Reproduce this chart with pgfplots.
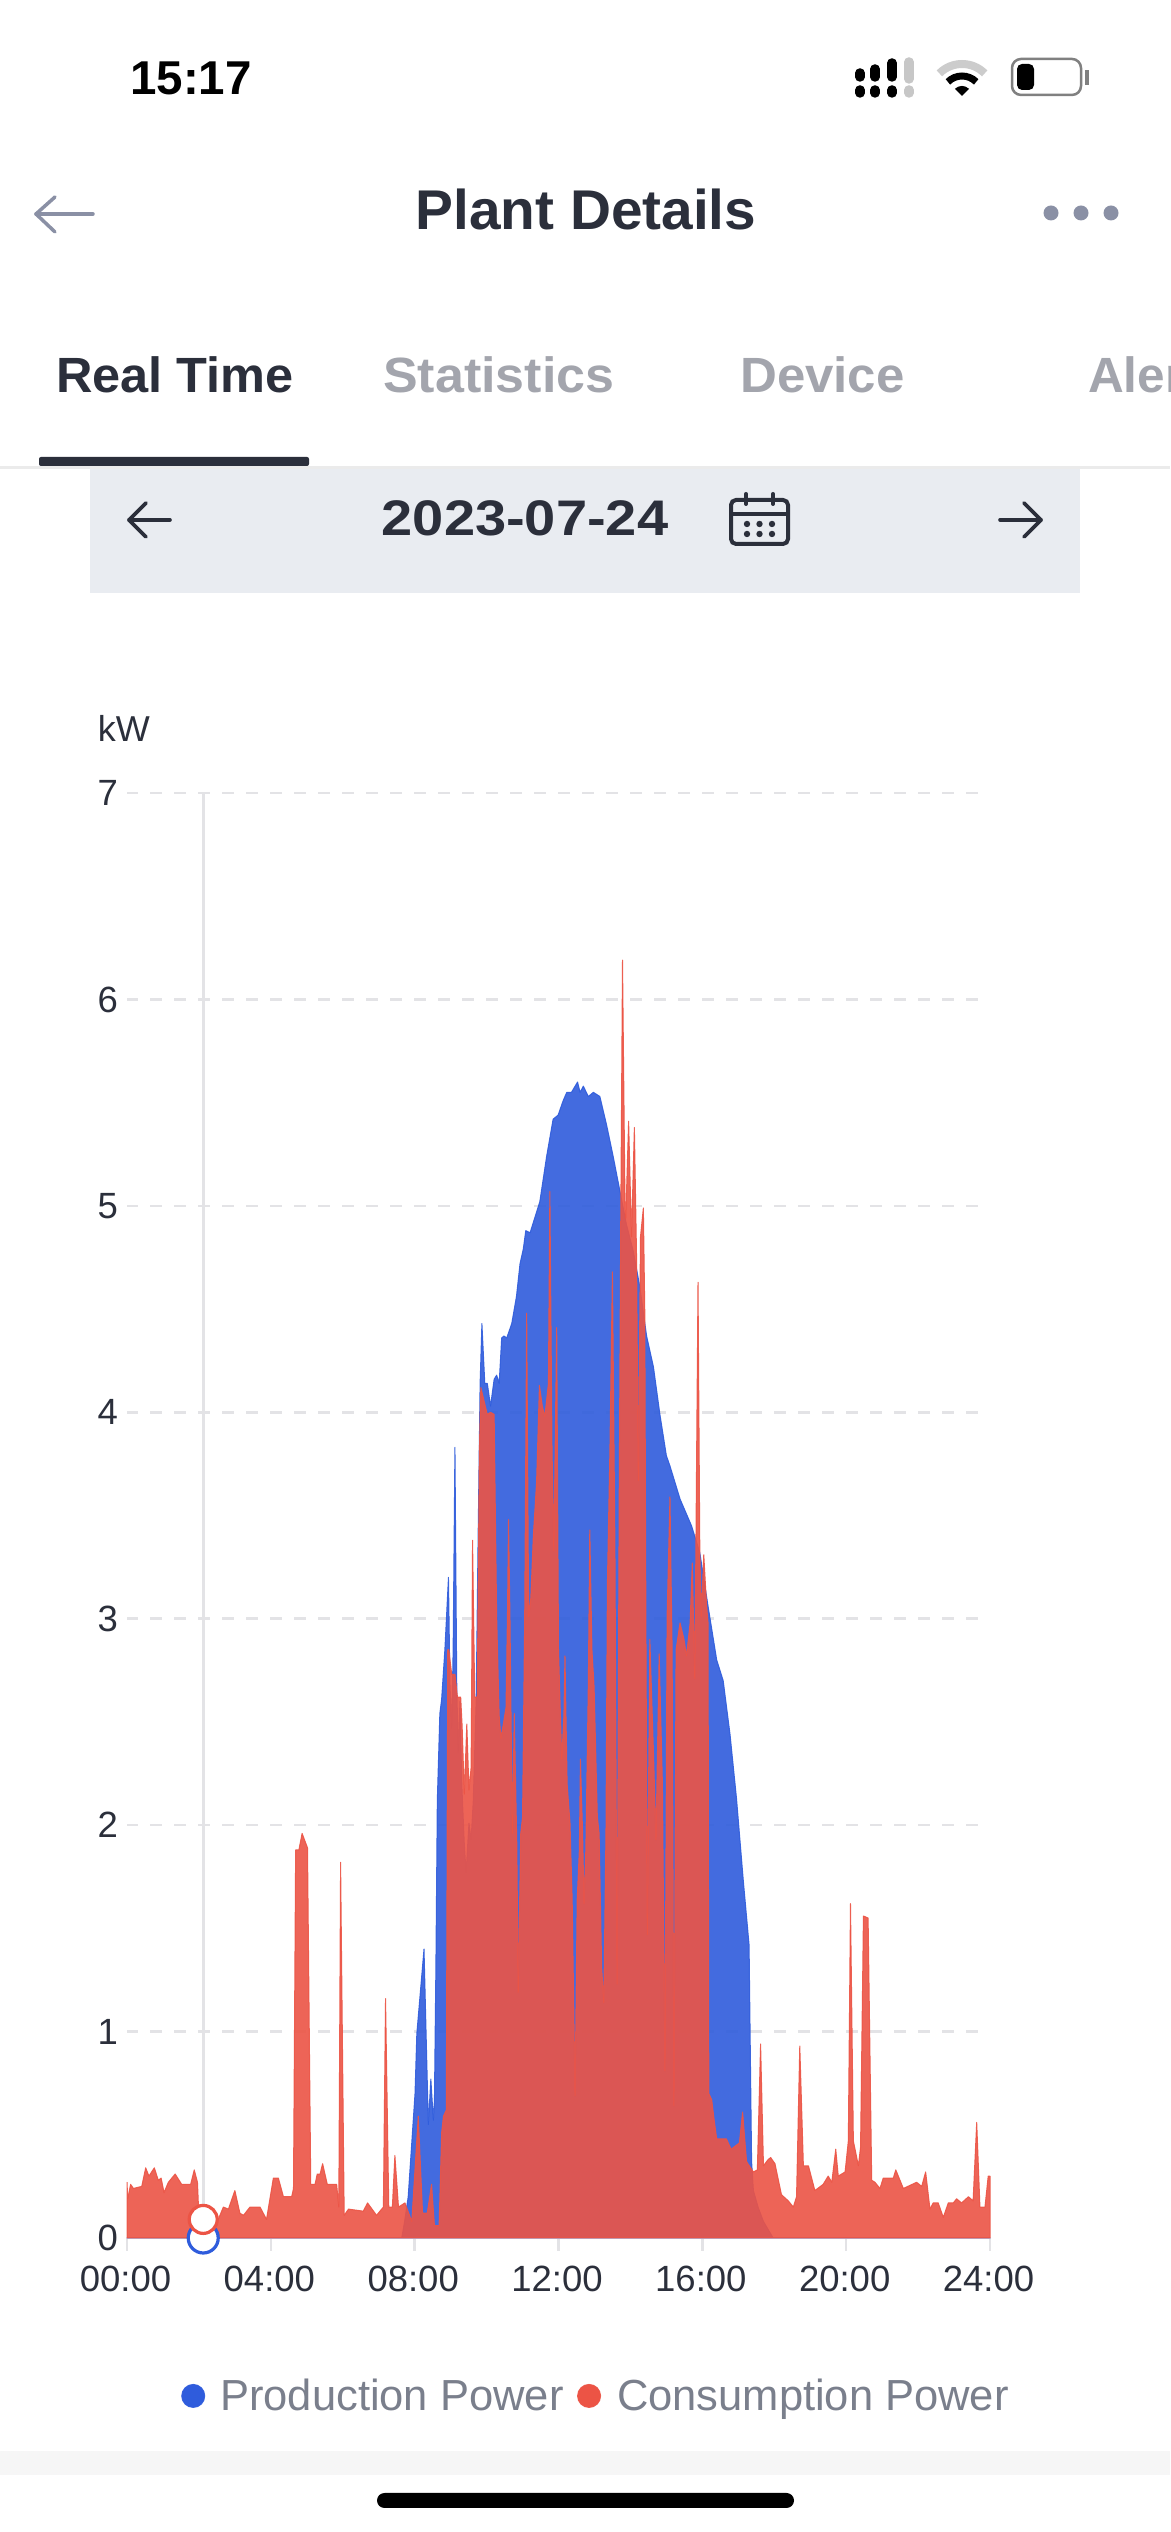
\documentclass[border=0pt]{standalone}
\usepackage{pgfplots}
\usepackage{fontspec}
\setmainfont{Liberation Sans}
\pgfplotsset{compat=1.18}
\definecolor{prod}{HTML}{2F5CDC}
\definecolor{cons}{HTML}{EC5445}
\definecolor{ink}{HTML}{2B2F3B}
\definecolor{tabgrey}{HTML}{A3A5AD}
\definecolor{navgrey}{HTML}{8A90A5}
\definecolor{gridgrey}{HTML}{E3E3E6}
\definecolor{legtext}{HTML}{7A7F8C}
\definecolor{band}{HTML}{E9ECF1}
\newcommand{\fs}[1]{\fontsize{#1}{#1}\selectfont}
\begin{document}
\begin{tikzpicture}[x=1pt,y=1pt]
\path[use as bounding box] (0,0) rectangle (1170,2532);
\fill[white] (0,0) rectangle (1170,2532);
\begin{scope}[x=1pt,y=-1pt,yshift=2532pt]
  % status bar
  \node[anchor=base,inner sep=0pt,text=black] at (191,95) {\fs{47.5}\bfseries 15:17};
  \foreach \x/\a in {860/73,875/69,892/63}{\draw[black,line width=9.5pt,line cap=round] (\x,\a)--(\x,77); \draw[black,line width=9.5pt,line cap=round] (\x,90)--(\x,93);}
  \draw[black!22,line width=9.5pt,line cap=round] (909,62)--(909,79);
  \draw[black!22,line width=9.5pt,line cap=round] (909,90)--(909,93);
  \draw[black!20,line width=8pt] (939.4,73.4) arc[start angle=-135,end angle=-45,radius=32];
  \draw[black,line width=7pt] (947.9,81.9) arc[start angle=-135,end angle=-45,radius=20];
  \fill[black] (962,96)--(954.9,88.9) arc[start angle=-135,end angle=-45,radius=10]--cycle;
  \draw[black!50,line width=2.5pt,rounded corners=9pt] (1012,59) rectangle (1081,95);
  \fill[black,rounded corners=5pt] (1017,64) rectangle (1034,90);
  \fill[black!50] (1085,70) rectangle (1089,85);
  % nav bar
  \draw[navgrey,line width=3.5pt,line cap=round,line join=round] (55,197)--(36,214)--(55,232);
  \draw[navgrey,line width=3.5pt,line cap=round] (36,214)--(93,214);
  \node[anchor=base,inner sep=0pt,text=ink] at (586,230) {\scalebox{1.014}[1]{\fs{56}\bfseries Plant Details}};
  \foreach \x in {1051,1081,1111}{\fill[navgrey] (\x,213) circle (7.5);}
  % tabs
  \node[anchor=base west,inner sep=0pt,text=ink] at (56,393) {\scalebox{1.02}[1]{\fs{49.5}\bfseries Real Time}};
  \node[anchor=base west,inner sep=0pt,text=tabgrey] at (383,393) {\scalebox{1.05}[1]{\fs{49.5}\bfseries Statistics}};
  \node[anchor=base west,inner sep=0pt,text=tabgrey] at (740,393) {\scalebox{1.03}[1]{\fs{49.5}\bfseries Device}};
  \begin{scope}
    \clip (1000,340) rectangle (1170,410);
    \node[anchor=base west,inner sep=0pt,text=tabgrey] at (1088,393) {\fs{49.5}\bfseries Alert};
  \end{scope}
  \fill[black!8] (0,466) rectangle (1170,469);
  \fill[ink,rounded corners=2pt] (39,457) rectangle (309,466);
  % date band
  \fill[band] (90,469) rectangle (1080,593);
  \draw[ink,line width=3.6pt,line cap=round,line join=round] (146,503)--(129,520)--(146,537);
  \draw[ink,line width=3.6pt,line cap=round] (129,520)--(170,520);
  \draw[ink,line width=3.6pt,line cap=round,line join=round] (1024,503)--(1041,520)--(1024,537);
  \draw[ink,line width=3.6pt,line cap=round] (1000,520)--(1041,520);
  \node[anchor=base,inner sep=0pt,text=ink] at (525,536) {\scalebox{1.12}[1]{\fs{50}\bfseries 2023-07-24}};
  \draw[ink,line width=4pt,rounded corners=5pt] (731,500) rectangle (788,544);
  \draw[ink,line width=4pt] (731,514)--(788,514);
  \draw[ink,line width=4pt,line cap=round] (746,494)--(746,504);
  \draw[ink,line width=4pt,line cap=round] (773,494)--(773,504);
  \foreach \x in {747,759.5,772}{\foreach \y in {524,534}{\fill[ink] (\x,\y) circle (3.2);}}
  % bottom
  \fill[black!3.5] (0,2451) rectangle (1170,2475);
  \fill[black,rounded corners=7.5pt] (377,2493) rectangle (794,2508);
\end{scope}
\begin{axis}[
  at={(127pt,294pt)},anchor=south west,
  width=863pt,height=1445pt,scale only axis,
  xmin=0,xmax=24,ymin=0,ymax=7,
  clip=false,
  axis lines=left,
  axis line style={-},
  x axis line style={draw=gridgrey,line width=2.6pt},
  y axis line style={draw=none},
  xtick={0,4,8,12,16,20,24},
  xticklabels={00:00,04:00,08:00,12:00,16:00,20:00,24:00},
  ytick={0,1,2,3,4,5,6,7},
  tick align=outside,
  major tick length=13pt,
  xtick style={draw=gridgrey,line width=2.4pt},
  ytick style={draw=none},
  /pgf/number format/assume math mode=true,
  ticklabel style={text=ink,font=\fs{36.5},inner sep=0pt},
  x tick label style={yshift=-15pt,xshift=-1.5pt},
  y tick label style={xshift=4pt},
  ymajorgrids,
  grid style={draw=gridgrey,line width=2.6pt,dash pattern=on 12pt off 12pt,dash phase=1pt},
  ylabel={kW},
  ylabel style={at={(axis description cs:-0.0035,1.045)},rotate=-90,anchor=center,text=ink,font=\fs{36}},
  legend columns=2,
  legend style={draw=none,fill=none,inner sep=0pt,at={(axis description cs:0.0626,-0.1093)},anchor=west,
    nodes={inner sep=0pt,font=\fs{43.5},text=legtext,anchor=west},
    /tikz/column 1/.style={column sep=15pt},
    /tikz/column 2/.style={column sep=13.5pt},
    /tikz/column 3/.style={column sep=16pt}},
]
\addplot[draw=prod,draw opacity=.9,fill=prod,fill opacity=.9,line width=1pt,line join=round,
  legend image code/.code={\fill[prod,fill opacity=1] (0pt,0pt) circle (11.5pt);}] coordinates {
(0,0)(7.64,0)(7.72,.08)(7.82,.20)(8.01,.70)(8.06,.99)(8.26,1.40)(8.38,.55)(8.45,.77)(8.52,.57)(8.55,.67)(8.59,1.31)(8.63,2.12)
(8.70,2.54)(8.75,2.61)(8.84,2.85)(8.94,3.20)(8.98,2.69)(9.03,2.47)(9.07,2.85)(9.12,3.83)(9.17,2.69)(9.21,2.35)(9.26,2.6)(9.31,2.2)(9.38,1.91)(9.43,1.77)(9.51,2.01)(9.57,1.93)(9.63,2.12)(9.71,2.6)(9.76,3.33)(9.82,4.14)(9.87,4.43)
(9.95,4.14)(10.02,4.14)(10.11,4.03)(10.21,4.16)(10.28,4.18)(10.35,4.14)(10.42,4.36)(10.48,4.37)(10.56,4.36)(10.70,4.43)(10.83,4.56)(10.93,4.72)(11.02,4.79)(11.09,4.88)(11.21,4.87)(11.48,5.02)(11.67,5.24)(11.85,5.42)(11.99,5.44)(12.13,5.51)(12.23,5.55)(12.36,5.55)(12.53,5.60)(12.60,5.55)(12.69,5.58)(12.83,5.53)(12.97,5.55)(13.15,5.53)(13.34,5.39)(13.52,5.24)(13.71,5.07)(13.89,4.91)(14.08,4.78)(14.26,4.61)(14.45,4.37)(14.64,4.22)(14.82,3.99)(15.0,3.79)(15.10,3.74)(15.38,3.58)(15.70,3.45)(15.93,3.32)(16.16,3.06)(16.40,2.80)(16.58,2.70)(16.77,2.44)(16.95,2.13)(17.14,1.73)(17.30,1.42)(17.37,.37)(17.42,.23)(17.55,.15)(17.70,.08)(17.97,0)(24,0)
} \closedcycle;
\addlegendentry{Production Power}
\addplot[draw=cons,draw opacity=.9,fill=cons,fill opacity=.9,line width=1pt,line join=round,
  legend image code/.code={\fill[cons,fill opacity=1] (0pt,0pt) circle (11.5pt);}] coordinates {
(0,.27)(.02,.19)(.10,.26)(.18,.24)(.41,.25)(.52,.34)(.61,.30)(.76,.34)(.87,.28)(.95,.29)(1.03,.22)(1.15,.27)(1.34,.31)(1.52,.26)(1.77,.26)(1.87,.33)(1.96,.27)(2.0,.10)(2.22,.07)(2.49,.07)(2.68,.15)(2.82,.14)(3.0,.23)(3.14,.12)(3.24,.11)(3.42,.15)(3.70,.15)(3.88,.09)(4.07,.29)(4.21,.29)(4.35,.20)(4.58,.20)(4.63,.24)(4.69,1.88)(4.78,1.88)(4.87,1.96)(5.02,1.89)(5.11,.26)(5.23,.26)(5.29,.31)(5.37,.31)(5.44,.36)(5.57,.26)(5.83,.26)(5.89,.15)(5.94,1.82)(6.04,.11)(6.16,.14)(6.57,.13)(6.69,.17)(6.94,.11)(7.13,.15)(7.19,1.16)(7.28,.15)(7.38,.15)(7.45,.40)(7.55,.15)(7.73,.17)(7.92,.08)
(8.10,.59)(8.22,.12)(8.35,.12)(8.47,.26)(8.55,.06)(8.68,.06)(8.75,.51)(8.80,.59)(8.88,.62)(8.92,2.85)(8.95,2.85)(9.03,2.73)(9.12,2.73)(9.19,2.62)(9.28,2.62)(9.32,2.48)(9.38,2.15)(9.45,2.49)(9.51,2.17)(9.57,2.28)(9.61,3.38)(9.67,2.62)(9.74,2.62)(9.80,3.82)(9.84,4.12)(10.02,3.99)(10.11,4.0)(10.21,3.99)(10.28,3.01)(10.35,2.53)(10.40,2.42)(10.54,2.57)(10.58,3.01)(10.61,3.48)(10.65,3.01)(10.68,2.53)(10.72,1.96)(10.77,2.54)(10.84,1.91)(10.88,1.19)(10.95,1.96)(11.0,2.04)(11.06,3.01)(11.115,4.48)(11.17,3.01)(11.23,3.10)(11.30,3.40)(11.39,3.66)(11.47,4.13)(11.55,4.03)(11.62,3.98)(11.72,4.14)(11.76,5.07)(11.82,3.82)(11.87,3.33)(11.95,4.41)(12.0,2.85)(12.09,2.32)(12.15,2.53)(12.18,2.82)(12.24,2.2)(12.32,2.01)(12.38,1.64)(12.46,.69)(12.52,1.64)(12.58,1.88)(12.61,2.32)(12.67,1.96)(12.71,1.62)(12.76,1.88)(12.83,2.69)(12.87,3.43)(12.93,2.85)(12.99,2.67)(13.08,2.04)(13.13,1.96)(13.20,1.31)(13.26,1.14)(13.32,1.96)(13.36,3.17)(13.43,3.82)(13.50,4.68)(13.57,3.33)(13.63,1.23)(13.69,3.66)(13.73,4.9)(13.78,6.19)(13.85,5.0)(13.87,4.94)(13.95,5.41)(14.03,4.85)(14.11,5.38)(14.17,4.76)(14.22,3.67)(14.28,4.85)(14.36,4.99)(14.40,4.48)(14.43,3.0)(14.47,1.47)(14.54,2.90)(14.64,2.36)(14.71,1.93)(14.80,2.83)(14.89,2.20)(14.96,.81)(15.02,3.01)(15.10,3.59)(15.16,2.85)(15.21,.64)(15.27,2.85)(15.38,2.98)(15.49,2.90)(15.56,2.82)(15.66,2.98)(15.72,3.27)(15.79,2.71)(15.82,3.33)(15.88,4.63)(15.93,3.33)(15.97,3.01)(16.04,3.31)(16.12,3.06)(16.16,2.98)(16.18,.70)(16.26,.67)(16.33,.57)(16.40,.48)(16.54,.48)(16.67,.48)(16.80,.43)(16.95,.45)(17.03,.46)(17.12,.61)(17.23,.37)(17.42,.32)(17.53,.33)(17.62,.94)(17.70,.35)(17.83,.38)(17.90,.39)(18.02,.36)(18.20,.21)(18.39,.18)(18.53,.15)(18.62,.20)(18.71,.93)(18.81,.35)(18.95,.35)(19.13,.23)(19.36,.26)(19.50,.30)(19.60,.27)(19.71,.43)(19.78,.30)(19.97,.32)(20.06,.47)(20.12,1.62)(20.20,.47)(20.34,.35)(20.40,.44)(20.48,1.56)(20.61,1.55)(20.71,.28)(20.80,.27)(20.94,.24)(21.03,.29)(21.31,.29)(21.38,.33)(21.59,.24)(21.96,.27)(22.10,.25)(22.21,.32)(22.33,.14)(22.42,.17)(22.56,.17)(22.70,.10)(22.84,.17)(22.98,.17)(23.07,.19)(23.21,.17)(23.40,.20)(23.53,.18)(23.63,.56)(23.72,.15)(23.86,.15)(23.95,.30)(24,.30)
} \closedcycle;
\addlegendentry{Consumption Power}
\addplot[forget plot,draw=gridgrey,line width=3pt] coordinates {(2.12,0)(2.12,7)};
\addplot[forget plot,only marks,mark=*,mark size=15pt,mark options={fill=white,draw=prod,line width=3.2pt}] coordinates {(2.12,0)};
\addplot[forget plot,only marks,mark=*,mark size=14pt,mark options={fill=white,draw=cons,line width=3.2pt}] coordinates {(2.12,.09)};
\end{axis}
\end{tikzpicture}
\end{document}
